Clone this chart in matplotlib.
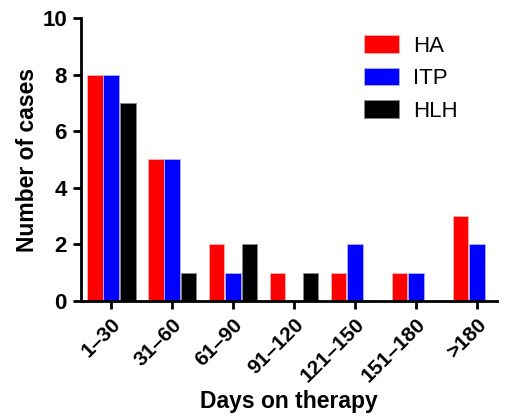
import matplotlib.pyplot as plt
import numpy as np

categorias = ["1–30", "31–60", "61–90", "91–120", "121–150", "151–180", ">180"]
ha = [8, 5, 2, 1, 1, 1, 3]
itp = [8, 5, 1, 0, 2, 1, 2]
hlh = [7, 1, 2, 1, 0, 0, 0]

plt.rcParams['font.family'] = ['Liberation Sans', 'DejaVu Sans']

fig = plt.figure(figsize=(5.05, 4.18), dpi=100)
ax = fig.add_axes([0.160, 0.280, 0.824, 0.677])

x = np.arange(len(categorias))
w = 0.27
ax.bar(x - w, ha, w * 0.95, color='#ff0000', edgecolor='#ffb0b0', linewidth=0.6, label='HA')
ax.bar(x, itp, w * 0.95, color='#0000ff', edgecolor='#b0b0ff', linewidth=0.6, label='ITP')
ax.bar(x + w, hlh, w * 0.95, color='#000000', edgecolor='#888888', linewidth=0.6, label='HLH')

ax.set_xlim(-0.5, 6.33)
ax.set_ylim(0, 10)
ax.set_yticks([0, 2, 4, 6, 8, 10])
ax.set_xticks(x)
ax.set_xticklabels(categorias, rotation=45, ha='right', rotation_mode='anchor')

for s in ['top', 'right']:
    ax.spines[s].set_visible(False)
for s in ['left', 'bottom']:
    ax.spines[s].set_linewidth(2)
ax.tick_params(width=2, length=6, pad=4)
ax.tick_params(axis='y', labelsize=16)
ax.tick_params(axis='x', labelsize=15)
for lbl in ax.get_xticklabels() + ax.get_yticklabels():
    lbl.set_fontweight('bold')

ax.set_xlabel("Days on therapy", fontsize=16.5, fontweight='bold', labelpad=3)
ax.set_ylabel("Number of cases", fontsize=16.5, fontweight='bold', labelpad=2)

ax.legend(loc='upper left', bbox_to_anchor=(0.68, 0.94), frameon=False, fontsize=16,
          handlelength=1.6, handleheight=0.85, labelspacing=0.5, handletextpad=0.6,
          borderpad=0, borderaxespad=0)

fig.savefig("out.png", dpi=100)
